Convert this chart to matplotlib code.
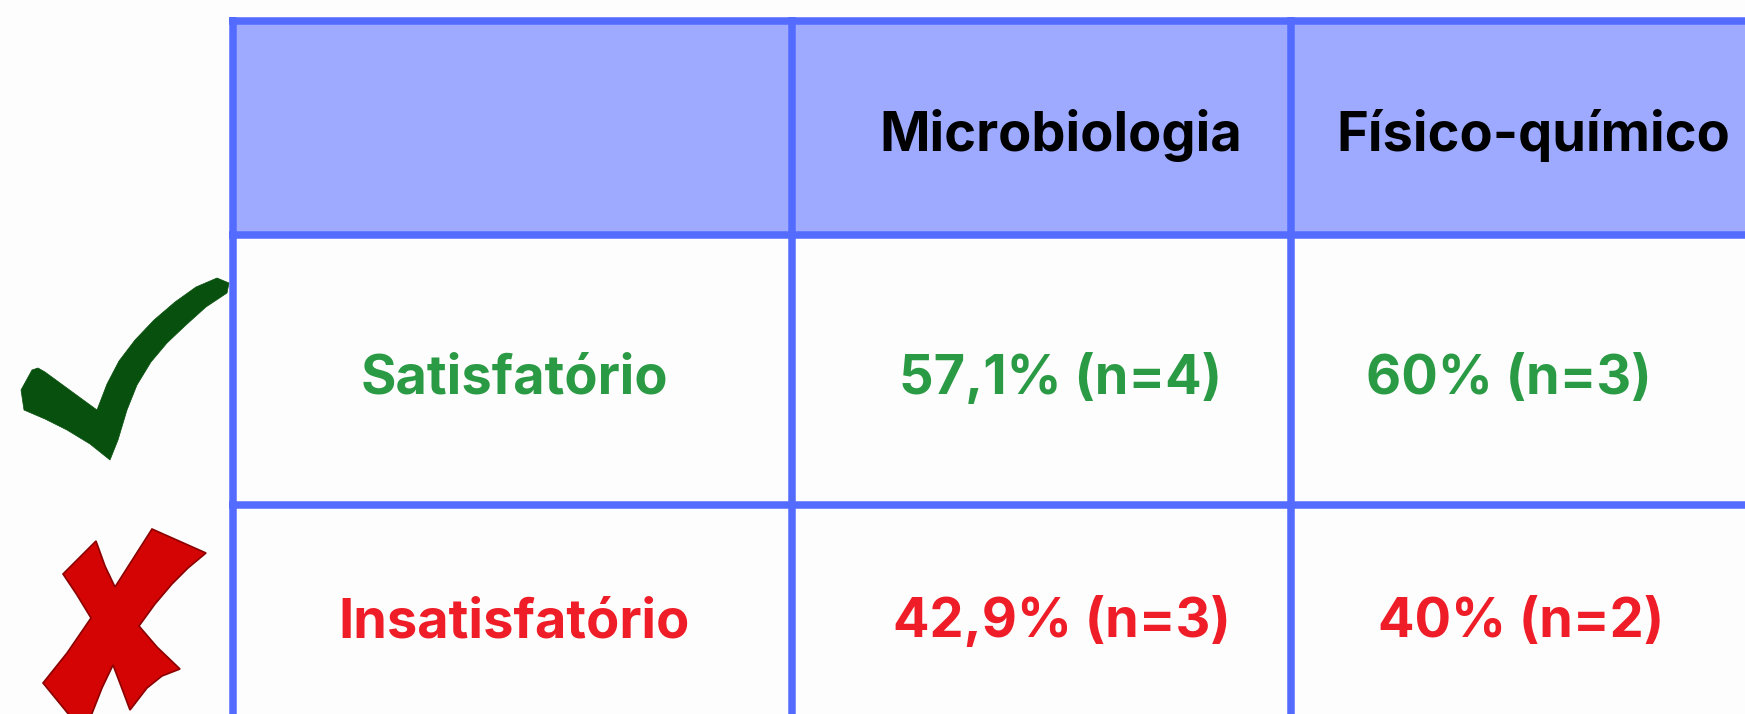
import matplotlib
matplotlib.use("Agg")
import matplotlib.pyplot as plt
from matplotlib.patches import Polygon, Rectangle

# table content
columns = ["Microbiologia", "Físico-químico"]
rows = ["Satisfatório", "Insatisfatório"]
percent = [[57.1, 60], [42.9, 40]]
counts = [[4, 3], [3, 2]]

row_colors = ["#2B9A45", "#EE1D27"]
border = "#536BFF"
header_fill = "#9DAAFF"

W, H = 1745, 714
fig = plt.figure(figsize=(W / 100, H / 100), dpi=100)
fig.patch.set_facecolor("#FDFDFD")
ax = fig.add_axes([0, 0, 1, 1])
ax.set_xlim(0, W)
ax.set_ylim(H, 0)
ax.axis("off")

# layout (pixels)
vlines = [233, 792, 1291]
hlines = [20.5, 235, 505]
lw = 7.5 * 72 / 100
header_x = [1061, 1533]
cell_x = [[514, 1061, 1509], [514, 1062, 1521]]
header_base = 151.5
row_base = [394, 637]
fs = 39

ax.add_patch(Rectangle((vlines[0], hlines[0]), W - vlines[0], hlines[1] - hlines[0],
                       facecolor=header_fill, edgecolor="none", zorder=1))
for x in vlines:
    ax.plot([x, x], [hlines[0] - 3.5, H + 5], color=border, lw=lw, zorder=3,
            solid_capstyle="butt")
for y in hlines:
    ax.plot([vlines[0] - 3.5, W + 5], [y, y], color=border, lw=lw, zorder=3,
            solid_capstyle="butt")

font = dict(family=["Inter", "DejaVu Sans"], fontweight="bold", fontsize=fs,
            ha="center", va="baseline", zorder=4)

for j, c in enumerate(columns):
    ax.text(header_x[j], header_base, c, color="black", **font)

def fmt(v, n):
    return f"{v:g}".replace(".", ",") + f"% (n={n})"

for i, r in enumerate(rows):
    ax.text(cell_x[i][0], row_base[i], r, color=row_colors[i], **font)
    for j in range(len(columns)):
        ax.text(cell_x[i][j + 1], row_base[i], fmt(percent[i][j], counts[i][j]),
                color=row_colors[i], **font)

# check mark icon
check = [(217, 278), (229, 283), (227, 293), (206, 307), (186, 325), (167, 343),
         (151, 362), (137, 385), (127, 410), (118, 440), (110, 460),
         (90, 444), (67, 430), (45, 419), (24, 410), (21, 390), (32, 370),
         (38, 368), (45, 372), (97, 410), (107, 384), (119, 361), (135, 340),
         (154, 320), (175, 302), (196, 287)]
ax.add_patch(Polygon(check, closed=True, facecolor="#08500E", edgecolor="#08500E",
                     lw=0.5, zorder=2))

# cross icon
cross = [(63, 574), (96, 541), (105, 566), (115, 587), (152, 529), (206, 553),
         (188, 568), (172, 584), (155, 604), (139, 626), (157, 647), (180, 669),
         (162, 676), (147, 688), (130, 710), (121, 686), (113, 665), (102, 688),
         (91, 716), (70, 716), (43, 683), (67, 653), (91, 618), (77, 595)]
ax.add_patch(Polygon(cross, closed=True, facecolor="#D40404", edgecolor="#8B0000",
                     lw=1.2, zorder=2))

fig.savefig("out.png", dpi=100, facecolor=fig.get_facecolor())
